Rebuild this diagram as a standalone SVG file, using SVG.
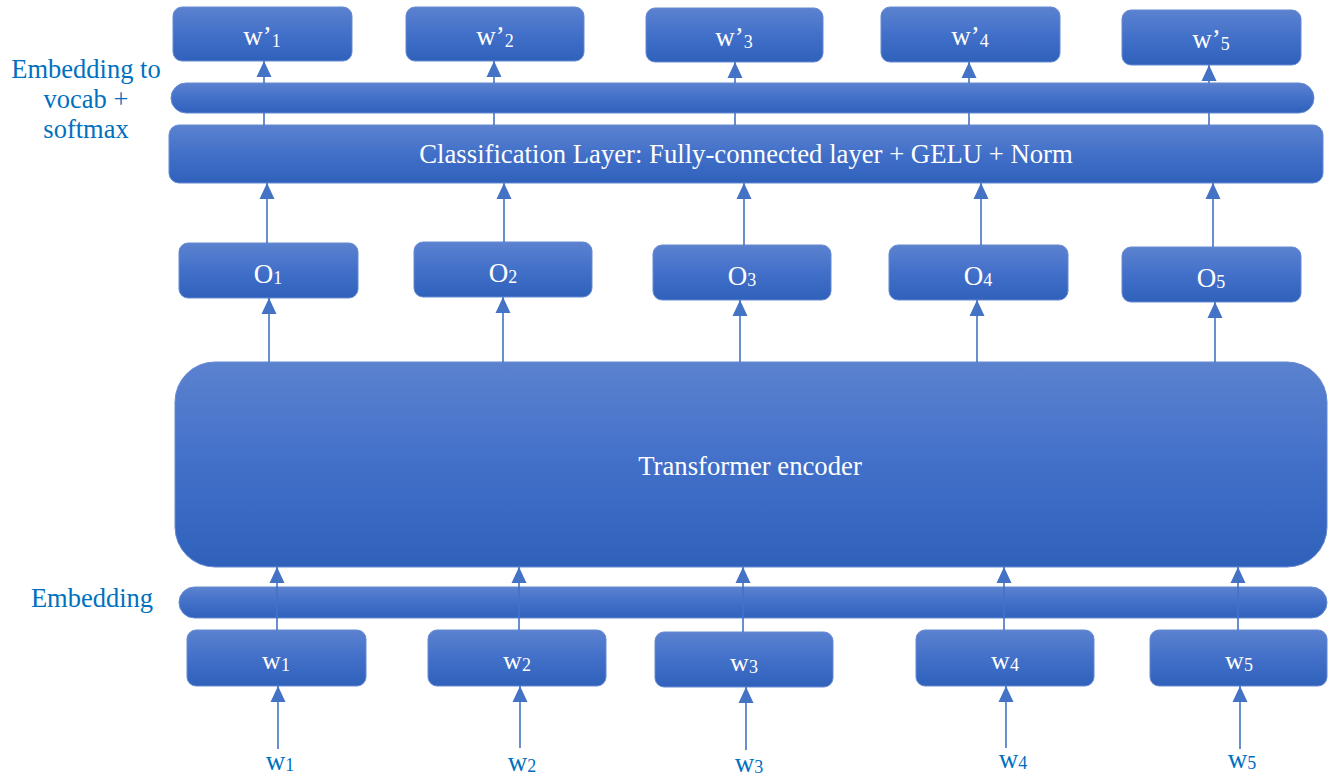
<svg xmlns="http://www.w3.org/2000/svg" width="1328" height="776" viewBox="0 0 1328 776">
  <defs>
    <linearGradient id="fillBlue" x1="0" y1="0" x2="0" y2="1">
      <stop offset="0" stop-color="#5b82cf"/>
      <stop offset="0.5" stop-color="#4270c9"/>
      <stop offset="1" stop-color="#2f61bb"/>
    </linearGradient>
    <marker id="head" markerUnits="userSpaceOnUse" markerWidth="16" markerHeight="16" viewBox="0 0 16 16" refX="16" refY="8" orient="auto">
      <path d="M0,0.5 L16,8 L0,15.5 Z" fill="#4472c4"/>
    </marker>
  </defs>
  <style>
    .box { fill: url(#fillBlue); stroke: #6689d2; stroke-width: 1; }
    .lbl { font-family: "Liberation Serif", "Times New Roman", serif; fill: #ffffff; text-anchor: middle; }
    .side { font-family: "Liberation Serif", "Times New Roman", serif; fill: #0070c0; text-anchor: middle; font-size: 26.5px; }
    .in { font-family: "Liberation Serif", "Times New Roman", serif; fill: #0070c0; text-anchor: middle; font-size: 27px; }
    .sub { font-size: 18px; }
    .link { stroke: #4472c4; stroke-width: 1.6; fill: none; }
    .arrow { stroke: #4472c4; stroke-width: 1.6; fill: none; marker-end: url(#head); }
  </style>

  <!-- side captions -->
  <g id="caption-vocab">
    <text class="side" x="86" y="78">Embedding to</text>
    <text class="side" x="86" y="108">vocab +</text>
    <text class="side" x="86" y="138">softmax</text>
  </g>
  <g id="caption-embedding">
    <text class="side" x="92" y="607">Embedding</text>
  </g>

  <!-- output tokens -->
  <g id="out-w1"><rect class="box" x="173" y="7" width="179" height="54" rx="9"/><text class="lbl" x="262" y="45" font-size="27">w’<tspan class="sub" dy="2">1</tspan></text></g>
  <g id="out-w2"><rect class="box" x="406" y="7" width="178" height="54" rx="9"/><text class="lbl" x="495" y="45" font-size="27">w’<tspan class="sub" dy="2">2</tspan></text></g>
  <g id="out-w3"><rect class="box" x="646" y="8" width="177" height="54" rx="9"/><text class="lbl" x="734" y="46" font-size="27">w’<tspan class="sub" dy="2">3</tspan></text></g>
  <g id="out-w4"><rect class="box" x="881" y="7" width="179" height="55" rx="9"/><text class="lbl" x="970" y="45" font-size="27">w’<tspan class="sub" dy="2">4</tspan></text></g>
  <g id="out-w5"><rect class="box" x="1122" y="10" width="179" height="55" rx="9"/><text class="lbl" x="1211" y="48" font-size="27">w’<tspan class="sub" dy="2">5</tspan></text></g>

  <!-- vocabulary projection bar -->
  <g id="vocab-bar"><rect class="box" x="171" y="83" width="1143" height="30" rx="15"/></g>

  <!-- classification head -->
  <g id="classification"><rect class="box" x="169" y="125" width="1154" height="58" rx="10"/><text class="lbl" x="746" y="163" font-size="26.7">Classification Layer: Fully-connected layer + GELU + Norm</text></g>

  <!-- encoder outputs -->
  <g id="o1"><rect class="box" x="179" y="243" width="179" height="55" rx="9"/><text class="lbl" x="268" y="283" font-size="27">O<tspan class="sub" dy="1">1</tspan></text></g>
  <g id="o2"><rect class="box" x="414" y="242" width="178" height="55" rx="9"/><text class="lbl" x="503" y="282" font-size="27">O<tspan class="sub" dy="1">2</tspan></text></g>
  <g id="o3"><rect class="box" x="653" y="245" width="178" height="55" rx="9"/><text class="lbl" x="742" y="285" font-size="27">O<tspan class="sub" dy="1">3</tspan></text></g>
  <g id="o4"><rect class="box" x="889" y="245" width="179" height="55" rx="9"/><text class="lbl" x="978" y="285" font-size="27">O<tspan class="sub" dy="1">4</tspan></text></g>
  <g id="o5"><rect class="box" x="1122" y="247" width="179" height="55" rx="9"/><text class="lbl" x="1211" y="287" font-size="27">O<tspan class="sub" dy="1">5</tspan></text></g>

  <!-- encoder -->
  <g id="transformer"><rect class="box" x="175" y="362" width="1152" height="205" rx="40"/><text class="lbl" x="750" y="475" font-size="26.7">Transformer encoder</text></g>

  <!-- embedding bar -->
  <g id="embedding-bar"><rect class="box" x="179" y="587" width="1148" height="31" rx="15.5"/></g>

  <!-- input token boxes -->
  <g id="in-w1"><rect class="box" x="187" y="630" width="179" height="56" rx="9"/><text class="lbl" x="276" y="669" font-size="26">w<tspan class="sub" dy="2">1</tspan></text></g>
  <g id="in-w2"><rect class="box" x="428" y="630" width="178" height="56" rx="9"/><text class="lbl" x="517" y="669" font-size="26">w<tspan class="sub" dy="2">2</tspan></text></g>
  <g id="in-w3"><rect class="box" x="655" y="632" width="178" height="55" rx="9"/><text class="lbl" x="744" y="671" font-size="26">w<tspan class="sub" dy="2">3</tspan></text></g>
  <g id="in-w4"><rect class="box" x="916" y="630" width="178" height="56" rx="9"/><text class="lbl" x="1005" y="669" font-size="26">w<tspan class="sub" dy="2">4</tspan></text></g>
  <g id="in-w5"><rect class="box" x="1150" y="630" width="177" height="56" rx="9"/><text class="lbl" x="1239" y="669" font-size="26">w<tspan class="sub" dy="2">5</tspan></text></g>

  <!-- raw tokens -->
  <g id="token-w1"><text class="in" x="280" y="770">w<tspan class="sub" dy="1">1</tspan></text></g>
  <g id="token-w2"><text class="in" x="522" y="771">w<tspan class="sub" dy="1">2</tspan></text></g>
  <g id="token-w3"><text class="in" x="749" y="772">w<tspan class="sub" dy="1">3</tspan></text></g>
  <g id="token-w4"><text class="in" x="1013" y="768">w<tspan class="sub" dy="1">4</tspan></text></g>
  <g id="token-w5"><text class="in" x="1242" y="768">w<tspan class="sub" dy="1">5</tspan></text></g>

  <!-- connectors -->
  <g id="connectors">
    <!-- classification -> vocab bar -> output tokens -->
    <line class="link" x1="264" y1="125" x2="264" y2="113"/>
    <line class="link" x1="494" y1="125" x2="494" y2="113"/>
    <line class="link" x1="735" y1="125" x2="735" y2="113"/>
    <line class="link" x1="969" y1="125" x2="969" y2="113"/>
    <line class="link" x1="1209" y1="125" x2="1209" y2="113"/>
    <line class="arrow" x1="264" y1="83" x2="264" y2="61"/>
    <line class="arrow" x1="494" y1="83" x2="494" y2="61"/>
    <line class="arrow" x1="735" y1="83" x2="735" y2="62"/>
    <line class="arrow" x1="969" y1="83" x2="969" y2="62"/>
    <line class="arrow" x1="1209" y1="83" x2="1209" y2="65"/>
    <!-- encoder outputs -> classification -->
    <line class="arrow" x1="267" y1="243" x2="267" y2="183"/>
    <line class="arrow" x1="504" y1="242" x2="504" y2="183"/>
    <line class="arrow" x1="744" y1="245" x2="744" y2="183"/>
    <line class="arrow" x1="981" y1="245" x2="981" y2="183"/>
    <line class="arrow" x1="1213" y1="247" x2="1213" y2="183"/>
    <!-- encoder -> outputs -->
    <line class="arrow" x1="269" y1="362" x2="269" y2="298"/>
    <line class="arrow" x1="503" y1="362" x2="503" y2="297"/>
    <line class="arrow" x1="740" y1="362" x2="740" y2="300"/>
    <line class="arrow" x1="977" y1="362" x2="977" y2="300"/>
    <line class="arrow" x1="1215" y1="362" x2="1215" y2="302"/>
    <!-- input boxes -> encoder -->
    <line class="arrow" x1="277" y1="630" x2="277" y2="567"/>
    <line class="arrow" x1="519" y1="630" x2="519" y2="567"/>
    <line class="arrow" x1="743" y1="632" x2="743" y2="567"/>
    <line class="arrow" x1="1004" y1="630" x2="1004" y2="567"/>
    <line class="arrow" x1="1238" y1="630" x2="1238" y2="567"/>
    <!-- raw tokens -> input boxes -->
    <line class="arrow" x1="278" y1="749" x2="278" y2="686"/>
    <line class="arrow" x1="520" y1="748" x2="520" y2="686"/>
    <line class="arrow" x1="746" y1="750" x2="746" y2="687"/>
    <line class="arrow" x1="1006" y1="748" x2="1006" y2="686"/>
    <line class="arrow" x1="1240" y1="749" x2="1240" y2="686"/>
  </g>
</svg>
